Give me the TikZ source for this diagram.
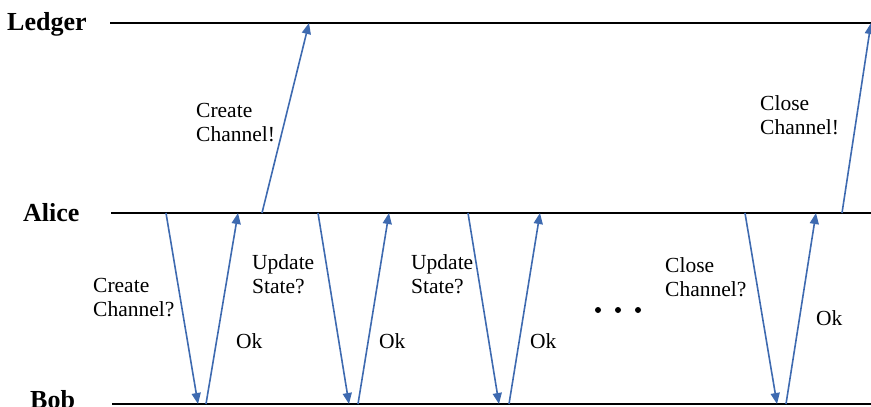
\documentclass[tikz,border=0pt]{standalone}
\usepackage{fontspec}
\setmainfont{Liberation Serif}
\usetikzlibrary{arrows.meta}
\definecolor{msgblue}{RGB}{62,106,176}
\tikzset{
  lifeline/.style={draw=black, line width=2.4pt},
  party/.style={anchor=base west, inner sep=0pt, font=\fontsize{26}{28}\selectfont\bfseries},
  msg/.style={draw=msgblue, line width=1.6pt, -{Triangle[length=11pt,width=9pt]}},
  lbl/.style={anchor=north west, inner sep=0pt, align=left, font=\fontsize{21.5}{24}\selectfont},
  dot/.style={fill=black, draw=none}
}
\begin{document}
\begin{tikzpicture}[x=1pt,y=-1pt]
  \useasboundingbox (0,0) rectangle (871,407);

  % participants
  \node[party] (ledger) at (7,30) {Ledger};
  \node[party] (alice)  at (23,221.7) {Alice};
  \node[party] (bob)    at (30,408.5) {Bob};

  % lifelines
  \coordinate (L0) at (110,23);  \coordinate (L1) at (871,23);
  \coordinate (A0) at (111,213); \coordinate (A1) at (871,213);
  \coordinate (B0) at (112,404); \coordinate (B1) at (871,404);
  \path[lifeline] (L0) -- (L1);
  \path[lifeline] (A0) -- (A1);
  \path[lifeline] (B0) -- (B1);

  % message end points
  \coordinate (a1) at (166,213);  \coordinate (b1) at (198,404);
  \coordinate (b2) at (206,404);  \coordinate (a2) at (238,213);
  \coordinate (a3) at (262,213);  \coordinate (l3) at (309,23);
  \coordinate (a4) at (318,213);  \coordinate (b4) at (349,404);
  \coordinate (b5) at (358,404);  \coordinate (a5) at (389,213);
  \coordinate (a6) at (468,213);  \coordinate (b6) at (499,404);
  \coordinate (b7) at (509,404);  \coordinate (a7) at (540,213);
  \coordinate (a8) at (745,213);  \coordinate (b8) at (777,404);
  \coordinate (b9) at (786,404);  \coordinate (a9) at (816,213);
  \coordinate (a10) at (842,213); \coordinate (l10) at (871,23);

  % messages
  \draw[msg] (a1) -- (b1);
  \draw[msg] (b2) -- (a2);
  \draw[msg] (a3) -- (l3);
  \draw[msg] (a4) -- (b4);
  \draw[msg] (b5) -- (a5);
  \draw[msg] (a6) -- (b6);
  \draw[msg] (b7) -- (a7);
  \draw[msg] (a8) -- (b8);
  \draw[msg] (b9) -- (a9);
  \draw[msg] (a10) -- (l10);

  % labels
  \node[lbl] (t1) at (196,103.5) {Create\\Channel!};
  \node[lbl] (t2) at (760,95.5)  {Close\\Channel!};
  \node[lbl] (t3) at (93,278)    {Create\\Channel?};
  \node[lbl] (t4) at (252,254.3) {Update\\State?};
  \node[lbl] (t5) at (411,254.3) {Update\\State?};
  \node[lbl] (t6) at (665,257)   {Close\\Channel?};
  \node[lbl] (o1) at (236,333)   {Ok};
  \node[lbl] (o2) at (379,333)   {Ok};
  \node[lbl] (o3) at (530,333)   {Ok};
  \node[lbl] (o4) at (816,310)   {Ok};

  % ellipsis
  \fill[dot] (598,310) circle (3);
  \fill[dot] (618,310) circle (3);
  \fill[dot] (638,310) circle (3);
\end{tikzpicture}
\end{document}
